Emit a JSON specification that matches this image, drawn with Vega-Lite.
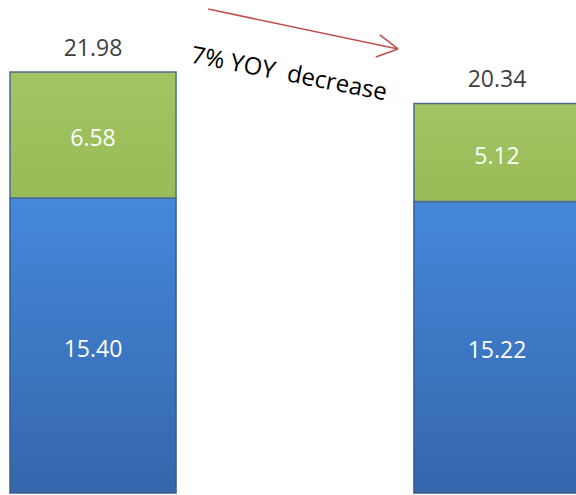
{
  "$schema": "https://vega.github.io/schema/vega-lite/v6.json",
  "width": 576,
  "height": 495,
  "autosize": {"type": "none"},
  "padding": 0,
  "background": "#ffffff",
  "config": {"view": {"stroke": null}},
  "datasets": {
    "bars": [
      {"year": "Prior year", "segment": "Base", "value": 15.40, "order": 1},
      {"year": "Prior year", "segment": "Other", "value": 6.58, "order": 2},
      {"year": "Current year", "segment": "Base", "value": 15.22, "order": 1},
      {"year": "Current year", "segment": "Other", "value": 5.12, "order": 2}
    ],
    "totals": [
      {"year": "Prior year", "total": 21.98},
      {"year": "Current year", "total": 20.34}
    ],
    "arrow": [
      {"x1": 0.285, "y1": 25.27, "x2": 0.755, "y2": 23.19},
      {"x1": 0.710, "y1": 23.92, "x2": 0.755, "y2": 23.19},
      {"x1": 0.700, "y1": 22.77, "x2": 0.755, "y2": 23.19}
    ],
    "note": [
      {"pos": 0.485, "level": 21.85, "label": "7% YOY\u00a0 decrease"}
    ]
  },
  "layer": [
    {
      "data": {"name": "bars"},
      "transform": [
        {"stack": "value", "groupby": ["year"], "sort": [{"field": "order"}], "as": ["y0", "y1"]},
        {"filter": "datum.segment === 'Base'"}
      ],
      "mark": {
        "type": "bar",
        "stroke": "#385D8A",
        "strokeWidth": 1.5,
        "fill": {
          "gradient": "linear", "x1": 0, "y1": 0, "x2": 0, "y2": 1,
          "stops": [
            {"offset": 0, "color": "#4488DA"},
            {"offset": 1, "color": "#3566AC"}
          ]
        }
      },
      "encoding": {
        "x": {"field": "year", "type": "nominal", "sort": null,
              "scale": {"type": "band", "domain": ["Prior year", "Current year"], "range": [10, 580], "paddingInner": 0.589, "paddingOuter": 0}, "axis": null},
        "y": {"field": "y0", "type": "quantitative",
              "scale": {"domain": [-0.104, 25.744], "nice": false, "zero": false}, "axis": null},
        "y2": {"field": "y1"}
      }
    },
    {
      "data": {"name": "bars"},
      "transform": [
        {"stack": "value", "groupby": ["year"], "sort": [{"field": "order"}], "as": ["y0", "y1"]},
        {"filter": "datum.segment === 'Other'"}
      ],
      "mark": {
        "type": "bar",
        "stroke": "#4F6A8E",
        "strokeWidth": 1.5,
        "fill": {
          "gradient": "linear", "x1": 0, "y1": 0, "x2": 0, "y2": 1,
          "stops": [
            {"offset": 0, "color": "#A2C463"},
            {"offset": 1, "color": "#98BC58"}
          ]
        }
      },
      "encoding": {
        "x": {"field": "year", "type": "nominal", "sort": null,
              "scale": {"type": "band", "domain": ["Prior year", "Current year"], "range": [10, 580], "paddingInner": 0.589, "paddingOuter": 0}, "axis": null},
        "y": {"field": "y0", "type": "quantitative", "axis": null},
        "y2": {"field": "y1"}
      }
    },
    {
      "data": {"name": "bars"},
      "transform": [
        {"stack": "value", "groupby": ["year"], "sort": [{"field": "order"}], "as": ["y0", "y1"]},
        {"calculate": "(datum.y0 + datum.y1) / 2", "as": "mid"}
      ],
      "mark": {"type": "text", "color": "#ffffff", "font": "Open Sans", "fontSize": 23, "align": "center", "baseline": "middle", "dy": 4},
      "encoding": {
        "x": {"field": "year", "type": "nominal", "sort": null, "bandPosition": 0.5,
              "scale": {"type": "band", "domain": ["Prior year", "Current year"], "range": [10, 580], "paddingInner": 0.589, "paddingOuter": 0}, "axis": null},
        "y": {"field": "mid", "type": "quantitative", "axis": null},
        "text": {"field": "value", "type": "quantitative", "format": ".2f"}
      }
    },
    {
      "data": {"name": "totals"},
      "mark": {"type": "text", "color": "#404040", "font": "Open Sans", "fontSize": 23, "align": "center", "baseline": "alphabetic", "dy": -16},
      "encoding": {
        "x": {"field": "year", "type": "nominal", "sort": null, "bandPosition": 0.5,
              "scale": {"type": "band", "domain": ["Prior year", "Current year"], "range": [10, 580], "paddingInner": 0.589, "paddingOuter": 0}, "axis": null},
        "y": {"field": "total", "type": "quantitative", "axis": null},
        "text": {"field": "total", "type": "quantitative", "format": ".2f"}
      }
    },
    {
      "data": {"name": "arrow"},
      "mark": {"type": "rule", "color": "#C0504D", "strokeWidth": 1.6},
      "encoding": {
        "x": {"field": "x1", "type": "quantitative",
              "scale": {"domain": [-0.2302, 1.1955], "nice": false, "zero": false}, "axis": null},
        "x2": {"field": "x2"},
        "y": {"field": "y1", "type": "quantitative", "axis": null},
        "y2": {"field": "y2"}
      }
    },
    {
      "data": {"name": "note"},
      "mark": {"type": "text", "color": "#000000", "font": "Open Sans", "fontSize": 24, "angle": 11, "align": "center", "baseline": "middle"},
      "encoding": {
        "x": {"field": "pos", "type": "quantitative",
              "scale": {"domain": [-0.2302, 1.1955], "nice": false, "zero": false}, "axis": null},
        "y": {"field": "level", "type": "quantitative", "axis": null},
        "text": {"field": "label"}
      }
    }
  ],
  "resolve": {"scale": {"x": "independent"}}
}
